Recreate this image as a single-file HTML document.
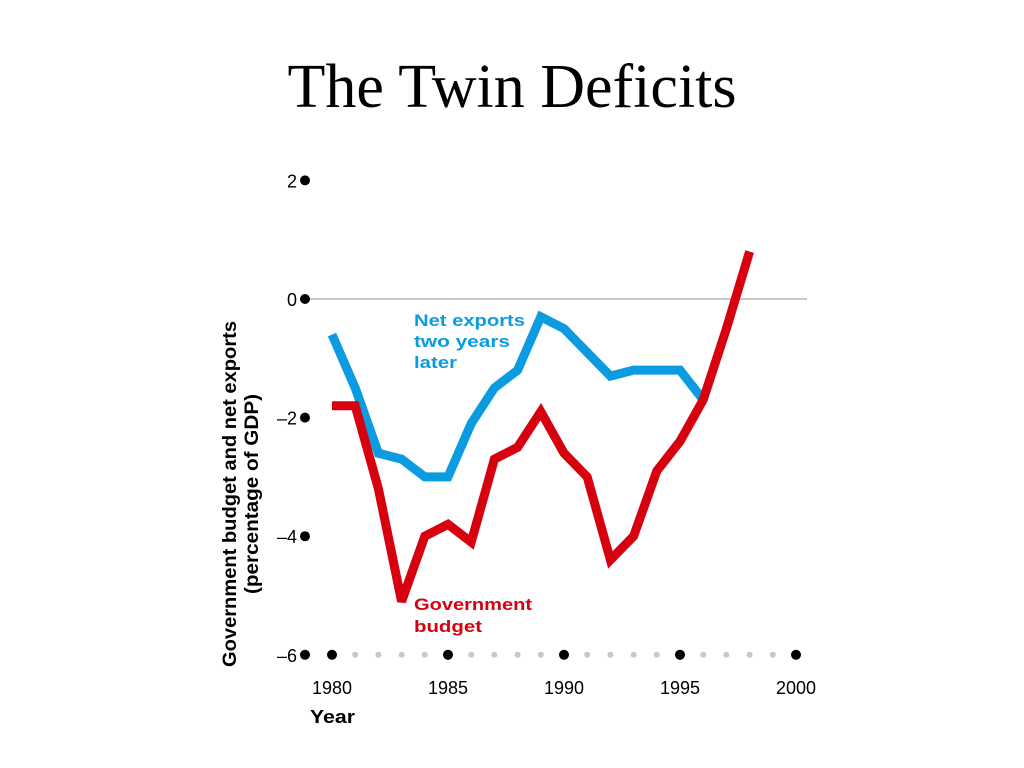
<!DOCTYPE html>
<html><head><meta charset="utf-8"><style>
body{margin:0;width:1024px;height:768px;background:#fff;overflow:hidden}
svg{display:block}
</style></head><body>
<svg width="1024" height="768" id="chart">
<text x="512" y="107" text-anchor="middle" font-family="Liberation Serif, serif" font-size="62" fill="#000">The Twin Deficits</text>
<g id="axes"></g>
<g id="series"></g>
<text font-family="Liberation Sans, sans-serif" font-weight="bold" font-size="17" fill="#0a9be0"><tspan x="414" y="326" textLength="111" lengthAdjust="spacingAndGlyphs">Net exports</tspan><tspan x="414" y="347" textLength="96" lengthAdjust="spacingAndGlyphs">two years</tspan><tspan x="414" y="368" textLength="43" lengthAdjust="spacingAndGlyphs">later</tspan></text>
<text font-family="Liberation Sans, sans-serif" font-weight="bold" font-size="17" fill="#d7000f"><tspan x="414" y="610" textLength="118" lengthAdjust="spacingAndGlyphs">Government</tspan><tspan x="414" y="632" textLength="68" lengthAdjust="spacingAndGlyphs">budget</tspan></text>
<text transform="translate(236,494) rotate(-90)" text-anchor="middle" font-family="Liberation Sans, sans-serif" font-weight="bold" font-size="19" fill="#000"><tspan x="0" y="0" textLength="346" lengthAdjust="spacingAndGlyphs">Government budget and net exports</tspan><tspan x="0" y="22" textLength="200" lengthAdjust="spacingAndGlyphs">(percentage of GDP)</tspan></text>
<text x="310" y="723" font-family="Liberation Sans, sans-serif" font-weight="bold" font-size="18" fill="#000" textLength="45" lengthAdjust="spacingAndGlyphs">Year</text>
</svg>
<script>
const years = [1980,1981,1982,1983,1984,1985,1986,1987,1988,1989,1990,1991,1992,1993,1994,1995,1996,1997,1998];
const netExports = [-0.6,-1.5,-2.6,-2.7,-3.0,-3.0,-2.1,-1.5,-1.2,-0.3,-0.5,-0.9,-1.3,-1.2,-1.2,-1.2,-1.7];
const govBudget = [-1.8,-1.8,-3.2,-5.1,-4.0,-3.8,-4.1,-2.7,-2.5,-1.9,-2.6,-3.0,-4.4,-4.0,-2.9,-2.4,-1.7,-0.5,0.8];
const yTicks = [2,0,-2,-4,-6];
const xTicks = [1980,1985,1990,1995,2000];
const NS='http://www.w3.org/2000/svg';
const xS = v => 332 + (v-1980)*23.2;
const yS = v => 299 - v*59.3;
const axes = document.getElementById('axes');
const series = document.getElementById('series');
function mk(tag, attrs, parent){const e=document.createElementNS(NS,tag);for(const k in attrs)e.setAttribute(k,attrs[k]);parent.appendChild(e);return e;}
const zl = mk('line',{x1:305,x2:807,y1:yS(0),y2:yS(0),stroke:'#c8c8c8','stroke-width':2},axes);


yTicks.forEach(t=>{
  const d=mk('circle',{cx:305,cy:yS(t),r:5,fill:'#000'},axes);
  
  
  const l=mk('text',{x:297,y:yS(t)+7,'text-anchor':'end','font-family':'Liberation Sans, sans-serif','font-size':18,fill:'#000'},axes);
  l.textContent = t<0 ? '\u2013'+Math.abs(t) : String(t);
  
  
});
for(let y=1981;y<2000;y++){
  if(xTicks.includes(y))continue;
  const d=mk('circle',{cx:xS(y),cy:yS(-6),r:3,fill:'#c8c8c8'},axes);
  
  
}
xTicks.forEach(t=>{
  const d=mk('circle',{cx:xS(t),cy:yS(-6),r:5,fill:'#000'},axes);
  
  
  const l=mk('text',{x:xS(t),y:694,'text-anchor':'middle','font-family':'Liberation Sans, sans-serif','font-size':18,fill:'#000'},axes);
  l.textContent=t;
  
  
});
function line(vals,color,name){
  const pts=vals.map((v,i)=>xS(years[i])+','+yS(v)).join(' ');
  const p=mk('polyline',{points:pts,fill:'none',stroke:color,'stroke-width':9,'stroke-linejoin':'miter','stroke-miterlimit':3},series);
  
  
}
line(netExports,'#0a9be0','net-exports-line');
line(govBudget,'#d7000f','government-budget-line');
</script>
</body></html>
